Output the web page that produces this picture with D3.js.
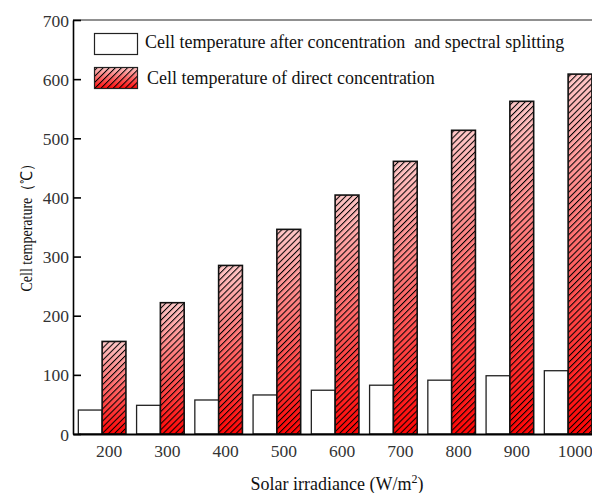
<!DOCTYPE html>
<html><head><meta charset="utf-8">
<script src="https://cdn.jsdelivr.net/npm/d3@7"></script>
<style>body{margin:0;background:#fff}svg{display:block}
svg text{font-family:"Liberation Serif","Times New Roman",serif !important;}
</style>
</head><body>
<script>
const categories = ["200","300","400","500","600","700","800","900","1000"];
const splitting = [40.5, 48.5, 57.5, 66, 74, 82.5, 91, 98.5, 107];
const direct = [156.5, 222, 285, 346, 404, 461, 513.5, 562.5, 608.5];
const yTicks = [0,100,200,300,400,500,600,700];
const seriesNames = ["Cell temperature after concentration  and spectral splitting", "Cell temperature of direct concentration"];

const W = 592, H = 493;
const svg = d3.select("body").append("svg").attr("width", W).attr("height", H);
const defs = svg.append("defs");
const grad = defs.append("linearGradient").attr("id","rg").attr("x1",0).attr("y1",0).attr("x2",0).attr("y2",1);
grad.append("stop").attr("offset","0%").attr("stop-color","#ffc8c8");
grad.append("stop").attr("offset","100%").attr("stop-color","#ff0505");
const pat = defs.append("pattern").attr("id","hatch").attr("patternUnits","userSpaceOnUse")
  .attr("width",4.3).attr("height",10).attr("patternTransform","rotate(45)");
pat.append("line").attr("x1",0.5).attr("y1",0).attr("x2",0.5).attr("y2",10).attr("stroke","#000").attr("stroke-width",1.05);

const x0 = 73, x1 = 73 + 9*58.25, yTop = 20, yBot = 434;
const x = d3.scaleBand().domain(categories).range([x0, x1]).paddingInner(0.183).paddingOuter(0.0915);
const xs = d3.scaleBand().domain([0,1]).range([0, x.bandwidth()]);
const y = d3.scaleLinear().domain([0,700]).range([yBot, yTop]);

// bars
const g = svg.append("g");
categories.forEach((c,i)=>{
  const v1 = splitting[i], v2 = direct[i];
  g.append("rect").attr("x", x(c)+xs(0)).attr("y", y(v1)).attr("width", xs.bandwidth()).attr("height", y(0)-y(v1))
    .attr("fill","#fff").attr("stroke","#222").attr("stroke-width",1.3);
  const bx = x(c)+xs(1), by = y(v2), bw = xs.bandwidth(), bh = y(0)-y(v2);
  g.append("rect").attr("x",bx).attr("y",by).attr("width",bw).attr("height",bh).attr("fill","url(#rg)");
  g.append("rect").attr("x",bx).attr("y",by).attr("width",bw).attr("height",bh).attr("fill","url(#hatch)")
    .attr("stroke","#111").attr("stroke-width",1.6);
});

// axes
svg.append("line").attr("x1",x0).attr("x2",W).attr("y1",yTop).attr("y2",yTop).attr("stroke","#222").attr("stroke-width",1.2);
const yAxis = d3.axisLeft(y).tickValues(yTicks).tickSizeInner(-8).tickSizeOuter(0).tickPadding(4);
const ya = svg.append("g").attr("transform",`translate(${x0},0)`).call(yAxis);
ya.select(".domain").attr("stroke","#000").attr("stroke-width",1.6);
ya.selectAll(".tick line").attr("stroke","#000").attr("stroke-width",1.6);
ya.selectAll(".tick text").attr("font-size",17.5).attr("fill","#333").attr("dy","0.35em");

const xAxis = d3.axisBottom(x).tickSize(0).tickSizeOuter(0).tickPadding(11);
const xa = svg.append("g").attr("transform",`translate(0,${yBot})`).call(xAxis);
xa.select(".domain").attr("stroke","#000").attr("stroke-width",2.2);
xa.selectAll(".tick text").attr("font-size",17.5).attr("fill","#333").attr("dx",7);

// titles
svg.append("text").attr("x",337).attr("y",490).attr("text-anchor","middle").attr("font-size",18).attr("fill","#111")
  .html('Solar irradiance (W/m<tspan dy="-7" font-size="12">2</tspan><tspan dy="7">)</tspan>');
svg.append("text").attr("transform","translate(32,224) rotate(-90)").attr("text-anchor","middle").attr("font-size",16).attr("fill","#111")
  .attr("textLength",135).attr("lengthAdjust","spacingAndGlyphs")
  .text("Cell temperature（℃）");

// legend
const lg = svg.append("g");
lg.append("rect").attr("x",94.5).attr("y",33.5).attr("width",43).attr("height",21).attr("fill","#fff").attr("stroke","#222").attr("stroke-width",1.2);
lg.append("text").attr("x",145).attr("y",48).attr("font-size",18).attr("fill","#111").style("white-space","pre").text(seriesNames[0]);
lg.append("rect").attr("x",94.5).attr("y",67.5).attr("width",43).attr("height",21).attr("fill","url(#rg)");
lg.append("rect").attr("x",94.5).attr("y",67.5).attr("width",43).attr("height",21).attr("fill","url(#hatch)").attr("stroke","#222").attr("stroke-width",1.2);
lg.append("text").attr("x",147).attr("y",84).attr("font-size",18).attr("fill","#111").text(seriesNames[1]);
</script>
</body></html>
